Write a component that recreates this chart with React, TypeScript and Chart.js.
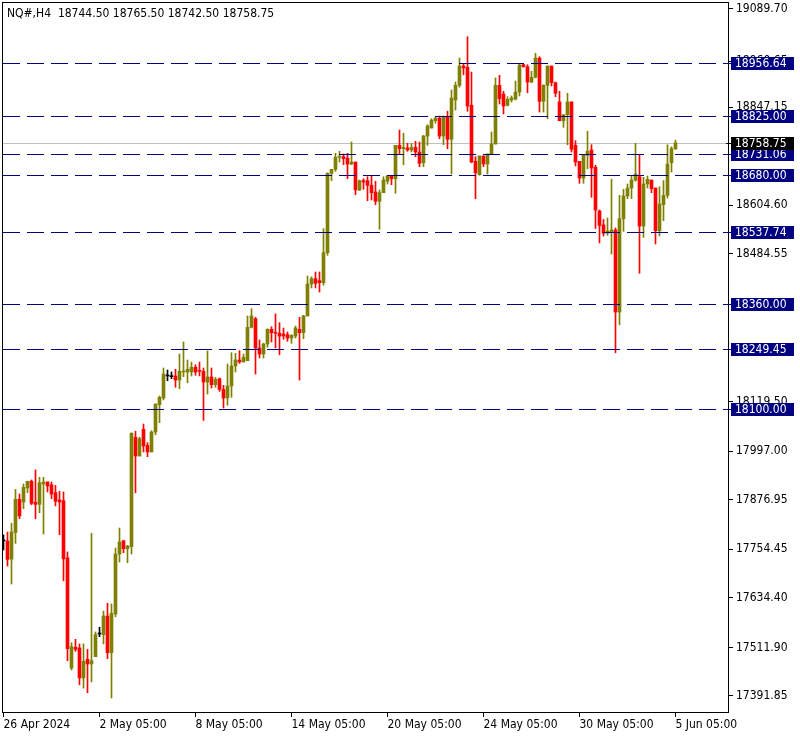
import React, { useEffect, useRef } from "react";
import { Chart, registerables } from "chart.js";

Chart.register(...registerables);

const opens = [
  17775, 17775, 17730, 17796, 17878, 17871.25, 17906, 17922.5, 17870.5, 17865.5,
  17915.75, 17920.75, 17914, 17894.25, 17876.25, 17874.5, 17733, 17461, 17512.25, 17510.5,
  17436.5, 17482.5, 17471, 17489, 17545, 17543.25, 17589.5, 17498.75, 17594.5, 17742.75,
  17775.75, 17756, 17761, 18031.25, 17985, 18051, 18011.5, 17995, 18044.25, 18111.75,
  18128.25, 18182.75, 18181, 18182.75, 18172.75, 18192.5, 18192.5, 18192.5, 18204.25, 18195.75,
  18194.25, 18167.75, 18180.25, 18161.25, 18176, 18149.5, 18128.25, 18158, 18207.5, 18222.25,
  18217.25, 18220.5, 18303, 18324.25, 18252, 18237, 18261.75, 18298, 18289.75, 18288.25,
  18286.5, 18284.75, 18276.5, 18281.5, 18298, 18289.75, 18331, 18410, 18423.25, 18418.25,
  18413.25, 18487.5, 18683.5, 18693.5, 18723.25, 18724.75, 18721.5, 18706.5, 18711.5, 18642.5,
  18665.5, 18665.5, 18654, 18637.5, 18614.5, 18635.75, 18664, 18677, 18670.25, 18752.75,
  18744.5, 18746.25, 18741.25, 18747.75, 18736.25, 18709.75, 18775.75, 18795.5, 18813.75, 18820.25,
  18775.75, 18823.5, 18767.75, 18864.75, 18901, 18948.75, 18945.5, 18851.75, 18713.25, 18680.25,
  18726.5, 18706.5, 18731.5, 18756, 18901, 18879.5, 18851.75, 18864.75, 18867.25, 18884.5,
  18952, 18947, 18909.25, 18921, 18968.5, 18861.5, 18901, 18948.75, 18907.5, 18860,
  18813.5, 18828.5, 18860, 18752.75, 18713.25, 18672, 18728, 18741.25, 18698.5, 18590.5,
  18556, 18535.5, 18538.5, 18543.5, 18340.75, 18571.5, 18627.5, 18647.25, 18667, 18675.25,
  18553.25, 18657.25, 18667, 18647.25, 18541.75, 18606, 18629.25, 18709.75, 18744.5,
];

const highs = [
  17790, 17797, 17818.5, 17902.5, 17891, 17915.75, 17922.5, 17925.75, 17950.5, 17932.25,
  17932.25, 17920.75, 17920.75, 17912.5, 17897.75, 17896, 17747.75, 17523.5, 17532, 17520.5,
  17520.5, 17507.25, 17794, 17550, 17561.5, 17601.5, 17621, 17619.25, 17757.5, 17807,
  17775.75, 17764.25, 18042.5, 18046, 18031.25, 18064, 18018, 18047.5, 18113.5, 18133.25,
  18202.5, 18197.5, 18192.5, 18199.25, 18237, 18266.75, 18222.25, 18217.25, 18210.5, 18217.25,
  18202.5, 18244.5, 18202.5, 18179.5, 18177.75, 18159.75, 18212.25, 18240.25, 18238.75, 18245.25,
  18237, 18331, 18349, 18327.75, 18271.75, 18263.5, 18299.5, 18304.5, 18336, 18314.5,
  18301.25, 18291.5, 18284.75, 18306.25, 18327.75, 18332.75, 18429.75, 18428, 18439.75, 18439.75,
  18546.75, 18685, 18693.5, 18733, 18738, 18731.5, 18733, 18761, 18711.5, 18667,
  18670.25, 18675.25, 18677, 18664, 18642.5, 18675.25, 18678.75, 18678.75, 18752.75, 18790.5,
  18782.5, 18757.75, 18757.75, 18762.75, 18761, 18777.5, 18803.75, 18818.5, 18822, 18825.25,
  18825.25, 18837, 18889.5, 18909.25, 18968.5, 18955.5, 19021.25, 18934, 18724.75, 18726.5,
  18726.5, 18731.5, 18785.75, 18919.25, 18925.75, 18886.25, 18873, 18874.75, 18911.75, 18953.75,
  18953, 18952, 18935.75, 18980.25, 18971.75, 18902.5, 18948.75, 18948.75, 18909.25, 18886.25,
  18828.5, 18881.5, 18860, 18764.25, 18713.25, 18728, 18787.5, 18754.25, 18703.5, 18593,
  18569.5, 18573.25, 18668.75, 18548.5, 18629.25, 18644, 18657.25, 18677, 18757.75, 18729.5,
  18673.75, 18677, 18667, 18647.25, 18650.5, 18665.5, 18754.25, 18749.25, 18765.5,
];

const lows = [
  17752.75, 17713, 17668.5, 17769, 17830, 17854.75, 17894.25, 17864.5, 17830, 17844.75,
  17792.25, 17896, 17879.5, 17861.5, 17790.5, 17676.75, 17479, 17456, 17502.25, 17419.75,
  17411.5, 17400, 17426.5, 17489, 17538.5, 17520.5, 17484, 17387, 17587.75, 17723,
  17746, 17721.25, 17742.75, 17894.25, 17985, 17995, 17983.25, 17995, 18037.5, 18067.25,
  18123.5, 18171, 18176, 18154.75, 18151.25, 18181, 18166, 18182.75, 18184.5, 18182.75,
  18072.75, 18138.25, 18153, 18154.75, 18144.5, 18103.5, 18110.25, 18130, 18192.5, 18214,
  18217.25, 18220.5, 18301.25, 18187.5, 18227.25, 18227.25, 18253.5, 18266.75, 18252, 18235.25,
  18273.5, 18268.5, 18263.5, 18276.5, 18172.75, 18275, 18331, 18400.25, 18400.25, 18390.25,
  18407, 18481, 18665.5, 18688.5, 18711.5, 18705, 18670.25, 18705, 18630.75, 18640.75,
  18644, 18616, 18617.75, 18606, 18545.25, 18635.75, 18657.25, 18655.5, 18634.25, 18731.5,
  18705, 18738, 18736.25, 18724.75, 18700, 18700, 18752.75, 18795.5, 18807.25, 18769.25,
  18754.25, 18744.5, 18682, 18840, 18896.25, 18927.25, 18837, 18709.75, 18621, 18678.75,
  18700, 18681.75, 18731.5, 18756, 18855, 18830.25, 18850, 18859.75, 18864.75, 18874.75,
  18946, 18882.75, 18907.5, 18919.25, 18835, 18835, 18818.5, 18899.5, 18873, 18813.5,
  18797.25, 18754.25, 18736.25, 18701.75, 18659, 18659, 18695, 18624.25, 18547.25, 18511.5,
  18528.75, 18530.5, 18484.25, 18240.25, 18309.5, 18540.25, 18621, 18621, 18664, 18436.5,
  18525.5, 18647.25, 18635.75, 18509, 18528.75, 18566.5, 18622.5, 18686.75, 18742.5,
];

const closes = [
  17775, 17729.5, 17797, 17878, 17836.75, 17907.5, 17922.5, 17868, 17865.5, 17919,
  17920.75, 17910.75, 17891, 17873, 17871.25, 17731, 17508.75, 17513.75, 17507.25, 17436.5,
  17477.5, 17471, 17479, 17543.25, 17545, 17589.5, 17498.75, 17596.25, 17742.75, 17772.5,
  17756, 17762.5, 18041, 17985, 18027.75, 18009.75, 17995, 18044.25, 18113.5, 18130,
  18187.5, 18182.75, 18181, 18172.75, 18194.25, 18194.25, 18199.25, 18204.25, 18192.5, 18194.25,
  18167.75, 18180.25, 18161.25, 18174.5, 18149.5, 18128.25, 18158, 18207.5, 18222.25, 18217.25,
  18229, 18303, 18331, 18252, 18237, 18261.75, 18298, 18289.75, 18288.25, 18281.5,
  18281.5, 18276.5, 18283.25, 18301.25, 18289.75, 18331, 18410, 18423.25, 18411.75, 18413.25,
  18487.5, 18683.5, 18693.5, 18723.25, 18724.75, 18719.75, 18706.5, 18711.5, 18642.5, 18665.5,
  18662, 18654, 18635.75, 18614.5, 18635.75, 18667, 18677, 18670.25, 18752.75, 18744.5,
  18747.75, 18741.25, 18747.75, 18736.25, 18708.5, 18775.75, 18800.5, 18815.25, 18820.25, 18775.75,
  18823.5, 18767.75, 18869.75, 18901, 18948.75, 18944, 18850, 18711.5, 18685, 18726.5,
  18706.75, 18731.5, 18756, 18901, 18868, 18850, 18866.5, 18869.75, 18884.5, 18951.25,
  18947, 18909.25, 18921, 18968.5, 18861.5, 18901, 18948.75, 18907.5, 18881.5, 18813.5,
  18828.5, 18860, 18743, 18711.5, 18672, 18728, 18738, 18696.75, 18593, 18554.75,
  18535.5, 18541, 18543.5, 18340.75, 18571.5, 18627.5, 18647.25, 18667, 18682, 18553.25,
  18657.25, 18668.75, 18645.5, 18541.75, 18607.75, 18629.25, 18706.5, 18744.5, 18758.75,
];

const xTickBars = [0, 24, 48, 72, 96, 120, 144, 168];
const xTickLabels = [
  "26 Apr 2024", "2 May 05:00", "8 May 05:00", "14 May 05:00",
  "20 May 05:00", "24 May 05:00", "30 May 05:00", "5 Jun 05:00",
];
const yTickValues = [
  19089.7, 18960.65, 18847.15, 18604.6, 18484.55, 18119.5,
  17997.0, 17876.95, 17754.45, 17634.4, 17511.9, 17391.85,
];
const levelValues = [18956.64, 18825.0, 18731.06, 18680.0, 18537.74, 18360.0, 18249.45, 18100.0];
const currentPrice = 18758.75;
const titleText = "NQ#,H4  18744.50 18765.50 18742.50 18758.75";

const Y_MIN = 17349.8;
const Y_MAX = 19107.0;
const X_MIN = -0.375;
const X_MAX = 181.375;

const OLIVE = "#808000";
const RED = "#ff0000";
const DOJI = "#000000";
const NAVY = "#000080";
const FONT_FAMILY = "'DejaVu Sans Condensed', 'DejaVu Sans', sans-serif";
const FONT_SIZE = 12;

export default function App() {
  const ref = useRef<HTMLCanvasElement | null>(null);

  useEffect(() => {
    document.body.style.margin = "0";
    const canvas = ref.current;
    if (!canvas) return;

    const colors = opens.map((o, i) => (closes[i] > o ? OLIVE : closes[i] < o ? RED : DOJI));
    const wicks = opens.map((_, i) => ({ x: i, y: [lows[i], highs[i]] }));
    const bodies = opens.map((o, i) => ({ x: i, y: [o, closes[i]] }));

    const overlay = {
      id: "mt4overlay",
      beforeDatasetsDraw(chart: any) {
        const { ctx, chartArea: a, scales } = chart;
        const py = Math.round(scales.y.getPixelForValue(currentPrice)) + 0.5;
        ctx.save();
        ctx.strokeStyle = "#c0c0c0";
        ctx.lineWidth = 1;
        ctx.beginPath();
        ctx.moveTo(a.left, py);
        ctx.lineTo(a.right, py);
        ctx.stroke();
        ctx.restore();
      },
      afterDatasetsDraw(chart: any) {
        const { ctx, chartArea: a, scales } = chart;
        ctx.save();
        ctx.strokeStyle = NAVY;
        ctx.lineWidth = 1;
        ctx.setLineDash([17, 7]);
        for (const v of levelValues) {
          const py = Math.round(scales.y.getPixelForValue(v)) + 0.5;
          ctx.beginPath();
          ctx.moveTo(a.left + 1, py);
          ctx.lineTo(a.right, py);
          ctx.stroke();
        }
        ctx.restore();
      },
      afterDraw(chart: any) {
        const { ctx, chartArea: a, scales } = chart;
        ctx.save();
        // frame
        ctx.strokeStyle = "#000";
        ctx.lineWidth = 1;
        ctx.strokeRect(a.left + 0.5, a.top + 0.5, a.right - a.left - 1, a.bottom - a.top - 1);
        // level boxes
        ctx.font = `${FONT_SIZE}px ${FONT_FAMILY}`;
        ctx.textBaseline = "middle";
        ctx.textAlign = "left";
        const drawBox = (v: number, bg: string) => {
          const py = Math.round(scales.y.getPixelForValue(v));
          ctx.fillStyle = bg;
          ctx.fillRect(a.right + 2, py - 6, 63, 13);
          ctx.fillStyle = "#fff";
          ctx.fillText(v.toFixed(2), a.right + 6, py + 1);
          ctx.strokeStyle = bg;
          ctx.beginPath();
          ctx.moveTo(a.right - 3, py + 0.5);
          ctx.lineTo(a.right + 2, py + 0.5);
          ctx.stroke();
        };
        for (const v of levelValues) drawBox(v, NAVY);
        drawBox(currentPrice, "#000");
        // title
        ctx.fillStyle = "#000";
        ctx.fillText(titleText, 7, 14);
        ctx.restore();
      },
    };

    const chart = new Chart(canvas, {
      type: "bar",
      data: {
        datasets: [
          {
            data: wicks as any,
            backgroundColor: colors,
            barThickness: 1,
            grouped: false,
            borderWidth: 0,
            order: 2,
          },
          {
            data: bodies as any,
            backgroundColor: colors,
            barThickness: 3,
            minBarLength: 1,
            grouped: false,
            borderWidth: 0,
            order: 1,
          },
        ],
      },
      options: {
        responsive: false,
        animation: false,
        devicePixelRatio: 1,
        layout: { padding: { left: 2, top: 2, right: 0, bottom: 0 } },
        plugins: {
          legend: { display: false },
          tooltip: { enabled: false },
          title: { display: false },
        },
        scales: {
          x: {
            type: "linear",
            min: X_MIN,
            max: X_MAX,
            offset: false,
            grid: {
              display: true,
              drawOnChartArea: false,
              drawTicks: true,
              tickLength: 4,
              color: "#000",
              offset: false,
            },
            border: { display: false },
            ticks: {
              autoSkip: false,
              maxRotation: 0,
              minRotation: 0,
              align: "start",
              padding: 1,
              color: "#000",
              font: { family: FONT_FAMILY, size: FONT_SIZE },
              callback: (_v: any, i: number) => xTickLabels[i],
            },
            afterBuildTicks: (s: any) => {
              s.ticks = xTickBars.map((v) => ({ value: v }));
            },
            afterFit: (s: any) => {
              s.height = 25;
              s.paddingLeft = 0;
              s.paddingRight = 0;
            },
          },
          y: {
            type: "linear",
            position: "right",
            min: Y_MIN,
            max: Y_MAX,
            grid: {
              display: true,
              drawOnChartArea: false,
              drawTicks: true,
              tickLength: 4,
              color: "#000",
            },
            border: { display: false },
            ticks: {
              autoSkip: false,
              padding: 3,
              color: "#000",
              font: { family: FONT_FAMILY, size: FONT_SIZE },
              callback: (v: any) => Number(v).toFixed(2),
            },
            afterBuildTicks: (s: any) => {
              s.ticks = yTickValues.map((v) => ({ value: v }));
            },
            afterFit: (s: any) => {
              s.width = 71;
              s.paddingTop = 0;
              s.paddingBottom = 0;
            },
          },
        },
      },
      plugins: [overlay],
    } as any);

    return () => chart.destroy();
  }, []);

  return (
    <div style={{ position: "fixed", left: 0, top: 0, width: 800, height: 738, background: "#fff" }}>
      <canvas ref={ref} width={800} height={738} style={{ display: "block" }} />
    </div>
  );
}
